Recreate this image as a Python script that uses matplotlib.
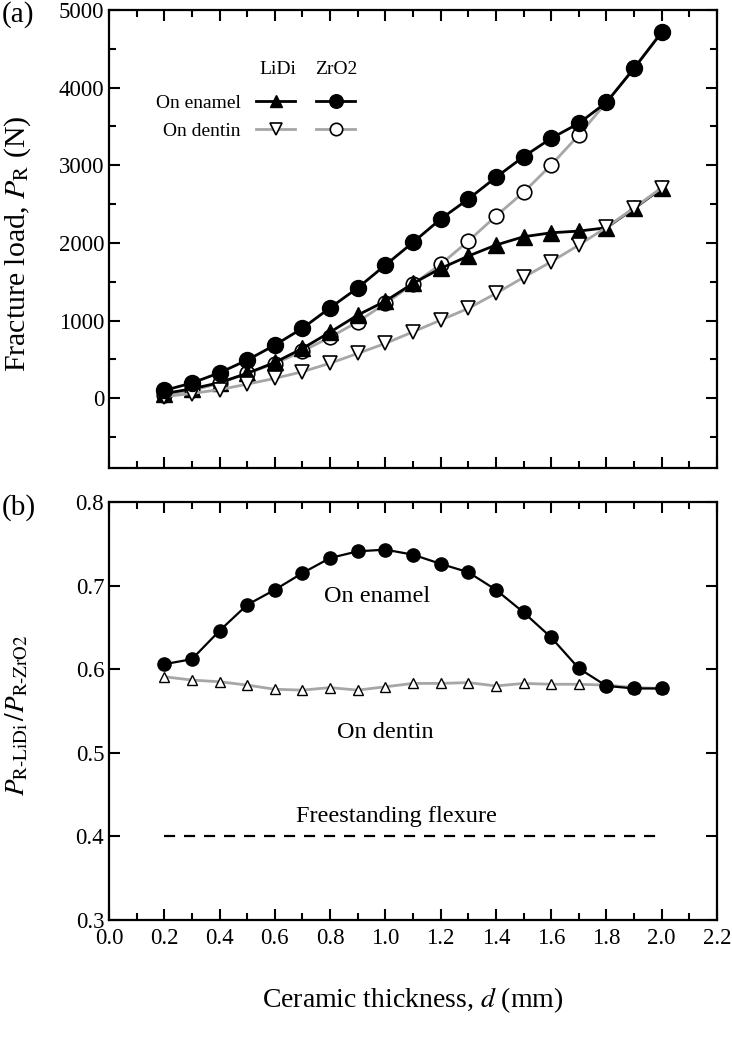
import matplotlib
matplotlib.use("Agg")
import matplotlib.pyplot as plt
from matplotlib.ticker import MultipleLocator

plt.rcParams['font.family'] = ['Liberation Serif', 'DejaVu Serif']
plt.rcParams['mathtext.fontset'] = 'stix'

# ceramic thickness d (mm)
thick = [0.2, 0.3, 0.4, 0.5, 0.6, 0.7, 0.8, 0.9, 1.0, 1.1,
         1.2, 1.3, 1.4, 1.5, 1.6, 1.7, 1.8, 1.9, 2.0]

# fracture load P_R (N)
lidi_enamel = [60, 120, 200, 320, 460, 640, 850, 1070, 1250, 1478,
               1671, 1830, 1972, 2079, 2130, 2152, 2195, 2444, 2702]
lidi_dentin = [20, 60, 110, 180, 255, 340, 450, 576, 705, 854,
               1005, 1156, 1349, 1555, 1757, 1972, 2200, 2450, 2710]
zro2_enamel = [100, 195, 327, 490, 683, 900, 1164, 1420, 1714, 2006,
               2307, 2564, 2844, 3110, 3347, 3540, 3810, 4249, 4713]
zro2_dentin = [40, 100, 190, 320, 445, 605, 785, 983, 1220, 1469,
               1723, 2023, 2345, 2651, 3003, 3389, 3810, 4249, 4713]

# ratio P_R-LiDi / P_R-ZrO2
ratio_enamel = [0.606, 0.612, 0.646, 0.677, 0.695, 0.715, 0.733, 0.741, 0.743, 0.737,
                0.726, 0.716, 0.695, 0.668, 0.638, 0.601, 0.580, 0.577, 0.577]
ratio_dentin = [0.591, 0.587, 0.585, 0.581, 0.576, 0.575, 0.578, 0.575, 0.579, 0.583,
                0.583, 0.584, 0.580, 0.583, 0.582, 0.582, 0.581, 0.578, 0.577]
flexure_x = [0.2, 2.0]
flexure_ratio = [0.4, 0.4]

GRAY = '#a6a6a6'

fig = plt.figure(figsize=(7.32, 10.48), dpi=100)
ax1 = fig.add_axes([0.1489, 0.5534, 0.8306, 0.4371])
ax2 = fig.add_axes([0.1489, 0.1221, 0.8306, 0.3989])

# (a) fracture load
zd, = ax1.plot(thick, zro2_dentin, '-o', color=GRAY, lw=2, ms=10.5,
               mfc='white', mec='black', mew=1.2, zorder=2)
le, = ax1.plot(thick, lidi_enamel, '-^', color='black', lw=2, ms=11,
               mfc='black', mec='black', zorder=3)
ld, = ax1.plot(thick, lidi_dentin, '-v', color=GRAY, lw=2, ms=9.5,
               mfc='white', mec='black', mew=1.2, zorder=4)
ze, = ax1.plot(thick, zro2_enamel, '-o', color='black', lw=2, ms=11.5,
               mfc='black', mec='black', zorder=5)

ax1.set_ylim(-900, 5000)
ax1.set_ylabel(r'Fracture load, $P_{\rm R}$ (N)', fontsize=21.5)
ax1.yaxis.set_label_coords(-0.125, 0.49)
ax1.yaxis.set_major_locator(MultipleLocator(1000))
ax1.yaxis.set_minor_locator(MultipleLocator(500))
ax1.tick_params(labelbottom=False)

leg = ax1.legend([le, ld, ze, zd], ['On enamel', 'On dentin', '', ''],
                 ncol=2, markerfirst=False, frameon=False, fontsize=14,
                 loc='upper left', bbox_to_anchor=(0.061, 0.837),
                 borderpad=0, handlelength=2.0, handletextpad=0.8,
                 columnspacing=0.28, labelspacing=0.55, markerscale=0.85)
ax1.text(0.278, 0.871, 'LiDi', transform=ax1.transAxes, fontsize=14,
         ha='center', va='center')
ax1.text(0.374, 0.871, 'ZrO2', transform=ax1.transAxes, fontsize=14,
         ha='center', va='center')

# (b) ratio
ax2.plot(thick, ratio_dentin, '-^', color=GRAY, lw=2, ms=7.5,
         mfc='white', mec='black', mew=1.0, zorder=2)
ax2.plot(thick, ratio_enamel, '-o', color='black', lw=1.6, ms=9.5,
         mfc='black', mec='black', zorder=3)
ax2.plot(flexure_x, flexure_ratio, '--', color='black', lw=1.6, dashes=(5, 4))

ax2.text(0.97, 0.687, 'On enamel', fontsize=17.5, ha='center', va='center')
ax2.text(1.00, 0.524, 'On dentin', fontsize=17.5, ha='center', va='center')
ax2.text(1.04, 0.424, 'Freestanding flexure', fontsize=17.5, ha='center', va='center')

ax2.set_ylim(0.3, 0.8)
ax2.yaxis.set_major_locator(MultipleLocator(0.1))
ax2.set_ylabel(r'$P_{\rm R\text{-}LiDi}\,/P_{\rm R\text{-}ZrO2}$', fontsize=19.5)
ax2.yaxis.set_label_coords(-0.13, 0.49)
ax2.set_xlabel(r'Ceramic thickness, $d$ (mm)', fontsize=20, labelpad=26)

for ax in (ax1, ax2):
    ax.set_xlim(0, 2.2)
    ax.xaxis.set_major_locator(MultipleLocator(0.2))
    ax.xaxis.set_minor_locator(MultipleLocator(0.1))
    ax.tick_params(which='both', direction='in', top=True, right=True,
                   width=1.5, labelsize=16.5)
    ax.tick_params(which='major', length=8)
    ax.tick_params(which='minor', length=5)
    ax.tick_params(axis='x', pad=6)
    for sp in ax.spines.values():
        sp.set_linewidth(1.6)

ax2.xaxis.set_major_formatter(plt.FormatStrFormatter('%.1f'))
ax2.yaxis.set_major_formatter(plt.FormatStrFormatter('%.1f'))

fig.text(0.003, 0.9866, '(a)', fontsize=21, ha='left', va='center')
fig.text(0.003, 0.516, '(b)', fontsize=21, ha='left', va='center')

fig.savefig('out.png', dpi=100)
